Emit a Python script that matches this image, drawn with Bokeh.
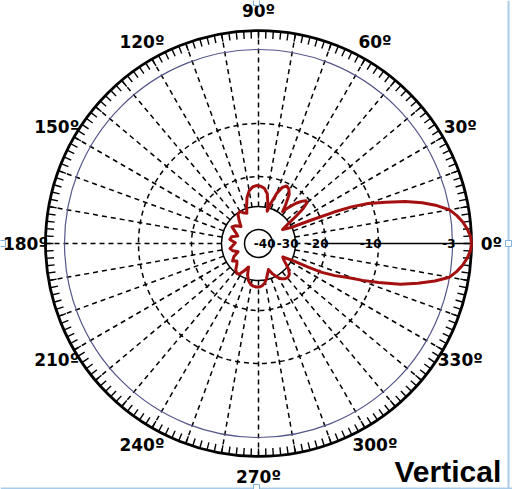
import numpy as np
from bokeh.plotting import figure
from bokeh.models import Range1d
from bokeh.core.properties import value
from bokeh.embed import file_html
from bokeh.resources import INLINE

# ---------------- data ----------------
# Vertical radiation pattern: angle (deg, CCW from 0º) and relative gain (dB)
pattern_angle = [0, 2, 4, 6, 8, 10, 12, 14, 16, 18, 20, 21.5, 22.6, 23.9, 26, 30,
                 34, 36, 38, 40, 42, 44, 47, 50, 53,
                 55, 58, 61, 64, 67, 70, 73, 75,
                 77, 80, 84, 88, 92, 96, 100, 104, 108, 111,
                 115, 120, 125, 130, 136, 142, 148, 154, 160, 166, 172, 178, 184,
                 190, 196, 202, 208, 214, 219, 224, 229, 234, 238, 242, 247,
                 251, 255, 259, 263, 267, 271, 275, 279, 283, 287, 291,
                 295, 299, 303, 307, 311, 315, 319, 323, 327, 331,
                 333.5, 334.6, 335.5, 337.2, 339, 340.5, 342, 344, 346, 348,
                 350, 352, 354, 356, 358, 360]
pattern_db = [0.0, -0.15, -0.6, -1.2, -2.0, -3.0, -4.1, -5.4, -6.9, -8.7, -10.6, -13.8, -17.2, -23.0, -30.0, -34.0,
              -30.0, -27.0, -23.5, -21.3, -21.0, -22.0, -24.0, -26.5, -29.0,
              -26.5, -23.0, -21.5, -21.0, -22.0, -24.5, -28.5, -31.5,
              -28.5, -25.5, -23.8, -23.2, -23.0, -23.4, -24.5, -26.5, -29.5, -32.0,
              -31.5, -30.0, -30.5, -33.0, -35.5, -33.5, -32.5, -35.0, -36.5, -34.0, -33.5, -36.0, -35.0,
              -33.5, -34.5, -36.5, -34.0, -32.5, -34.0, -33.0, -31.0, -30.0, -30.5, -32.5, -35.0,
              -31.5, -29.5, -28.5, -28.0, -27.8, -27.8, -28.2, -29.0, -30.5, -32.5, -34.0,
              -31.5, -29.5, -28.3, -27.6, -27.4, -27.8, -29.0, -31.0, -33.0, -34.0,
              -29.5, -24.0, -19.5, -17.0, -14.9, -11.8, -9.4, -7.4, -5.8, -4.3,
              -3.0, -2.0, -1.2, -0.6, -0.15, 0.0]

scale_db = [-40, -30, -20, -10, -3, 0]
scale_labels = ["-40", "-30", "-20", "-10", "-3"]
angle_ticks = [0, 30, 60, 90, 120, 150, 180, 210, 240, 270, 300, 330]
angle_labels = ["0º", "30º", "60º", "90º", "120º", "150º", "180º", "210º", "240º", "270º", "300º", "330º"]
chart_title = "Vertical"

# ---------------- styling / geometry ----------------
RING_R = [14, 37, 67, 120, 194, 213]   # radius (px) of each scale_db ring
OUTER = RING_R[-1]
RED = "#a3100f"
BLUE = "#55558a"


def rad(db):
    return np.interp(np.asarray(db, dtype=float), scale_db, RING_R)


p = figure(width=512, height=489, x_range=Range1d(-258, 254), y_range=Range1d(-246, 243),
           output_backend="svg", toolbar_location=None, min_border=0,
           x_axis_location=None, y_axis_location=None, outline_line_color=None,
           background_fill_color="white", border_fill_color="white")
p.grid.grid_line_color = None

# radial dashed spokes every 10 degrees
spokes = [a for a in range(10, 360, 10)]
xs, ys = [], []
for a in spokes:
    t = np.radians(a)
    xs.append([RING_R[1] * np.cos(t), OUTER * np.cos(t)])
    ys.append([RING_R[1] * np.sin(t), OUTER * np.sin(t)])
p.multi_line(xs, ys, line_color="black", line_width=1.5, line_dash="5 4")
# 0º axis: dashed inner part, solid outer part
p.line([RING_R[1], RING_R[2]], [0, 0], line_color="black", line_width=1.5, line_dash="5 4")
p.line([RING_R[2], OUTER], [0, 0], line_color="black", line_width=1.5)

# rings
p.circle(x=[0, 0], y=[0, 0], radius=[RING_R[2], RING_R[3]], fill_color=None,
         line_color="black", line_width=1.5, line_dash="5 4")
p.circle(x=[0, 0], y=[0, 0], radius=[RING_R[0], RING_R[1]], fill_color=None,
         line_color="black", line_width=1.5)
p.circle(x=[0], y=[0], radius=[RING_R[4]], fill_color=None, line_color=BLUE, line_width=1.2)
p.circle(x=[0], y=[0], radius=[OUTER], fill_color=None, line_color="black", line_width=2.8)

# tick marks every 2 degrees inside the outer ring
txs, tys = [], []
for a in range(0, 360, 2):
    t = np.radians(a)
    txs.append([OUTER * np.cos(t), (OUTER - 8) * np.cos(t)])
    tys.append([OUTER * np.sin(t), (OUTER - 8) * np.sin(t)])
p.multi_line(txs, tys, line_color="black", line_width=1.4)

# pattern
th = np.radians(pattern_angle)
r = rad(pattern_db)
p.line(r * np.cos(th), r * np.sin(th), line_color=RED, line_width=3, line_join="round")

# dB labels along 0º axis
p.text(x=[r_ + 3 for r_ in RING_R[:5]], y=[0] * 5, text=scale_labels,
       text_font=value("DejaVu Sans"), text_font_style="bold", text_font_size="12px",
       text_align="right", text_baseline="middle", text_color="black")

# angle labels
LR = 233
la = np.radians(angle_ticks)
p.text(x=LR * np.cos(la), y=LR * np.sin(la), text=angle_labels,
       text_font=value("DejaVu Sans"), text_font_style="bold", text_font_size="17px",
       text_align="center", text_baseline="middle", text_color="black")

# title
p.text(x=[136], y=[-228], text=[chart_title], text_font=value("Liberation Sans"),
       text_font_style="bold", text_font_size="30px", text_align="left",
       text_baseline="middle", text_color="black")

# light selection frame (right/bottom) and handles
p.line([250, 250], [243, -246], line_color="#a9cbea", line_width=2)
p.line([-258, 254], [-245, -245], line_color="#a9cbea", line_width=2)
p.rect(x=[-2, -256, 250, -2], y=[241, 0, 0, -244], width=6, height=6,
       fill_color="white", line_color="#7fb0e0", line_width=1)

open("out.html", "w").write(file_html(p, INLINE))
